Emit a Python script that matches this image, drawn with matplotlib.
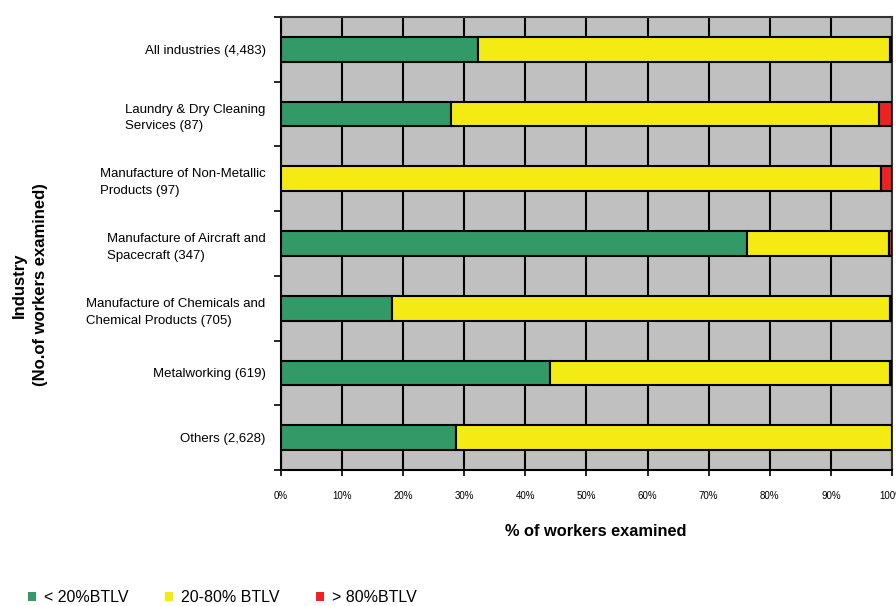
import numpy as np
import matplotlib
matplotlib.use('Agg')
import matplotlib.pyplot as plt
from matplotlib.patches import Patch

plt.rcParams['font.family'] = ['Liberation Sans', 'DejaVu Sans']

# Industries listed top to bottom
industries = ['All industries (4,483)',
              'Laundry & Dry Cleaning\nServices (87)',
              'Manufacture of Non-Metallic\nProducts (97)',
              'Manufacture of Aircraft and\nSpacecraft (347)',
              'Manufacture of Chemicals and\nChemical Products (705)',
              'Metalworking (619)',
              'Others (2,628)']
low = [32.3, 27.9, 0.0, 76.2, 18.1, 44.1, 28.6]
mid = [67.4, 70.0, 98.2, 23.3, 81.6, 55.6, 71.4]
high = [0.3, 2.1, 1.8, 0.5, 0.3, 0.3, 0.0]
series_names = ['< 20%BTLV', '20-80% BTLV', '> 80%BTLV']
colors = ['#339966', '#F5EB14', '#EE2222']

fig = plt.figure(figsize=(8.96, 6.06), dpi=100)
ax = fig.add_axes([0.3136, 0.2244, 0.6819, 0.7476])
ax.set_facecolor('#C0C0C0')

y = np.arange(len(industries))
left = np.zeros(len(industries))
for vals, c in zip([low, mid, high], colors):
    ax.barh(y, vals, left=left, height=0.38, color=c, edgecolor='black',
            linewidth=1.5, zorder=3)
    left += np.array(vals)

ax.set_xlim(0, 100)
ax.set_ylim(len(industries) - 0.5, -0.5)

ax.set_xticks(np.arange(0, 101, 10))
ax.set_xticklabels([f'{v}%' for v in range(0, 101, 10)], fontsize=7)
ax.xaxis.grid(True, color='black', linewidth=1.5, zorder=1)
ax.set_axisbelow(True)
ax.tick_params(axis='x', length=4, width=1.2, pad=11)

ax.set_yticks(y)
ax.set_yticklabels(industries, fontsize=9.5, ha='right', multialignment='left',
                   linespacing=1.55)
ax.set_yticks(np.arange(-0.5, len(industries), 1), minor=True)
ax.tick_params(axis='y', which='major', length=0, pad=11)
ax.tick_params(axis='y', which='minor', length=5, width=1.2)

for s in ['left', 'bottom']:
    ax.spines[s].set_linewidth(1.5)
for s in ['top', 'right']:
    ax.spines[s].set_linewidth(1.5)
    ax.spines[s].set_color('#333333')

fig.text(596 / 896, 1 - 532 / 606, '% of workers examined', fontsize=11.8,
         fontweight='bold', ha='center', va='center')
fig.text(0.033, 1 - 285 / 606, 'Industry\n(No.of workers examined)', rotation=90,
         fontsize=12, fontweight='bold', ha='center', va='center', linespacing=1.5)

handles = [Patch(facecolor=c, edgecolor='none') for c in colors]
fig.legend(handles, series_names, loc='center left',
           bbox_to_anchor=(28 / 896, 1 - 598 / 606), borderaxespad=0, borderpad=0,
           ncol=3, frameon=False, fontsize=11.5, handlelength=0.5, handleheight=0.5,
           columnspacing=2.3, handletextpad=0.5)

fig.savefig('out.png', dpi=100)
